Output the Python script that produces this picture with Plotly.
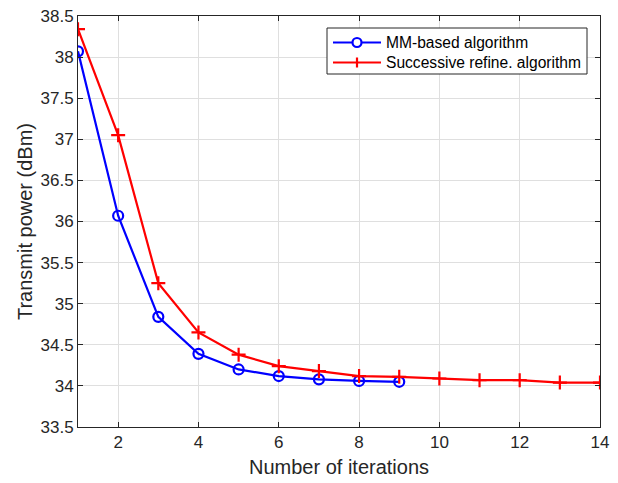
import plotly.graph_objects as go

# Iteration indices and transmit power (dBm) for each algorithm
iters_mm = [1, 2, 3, 4, 5, 6, 7, 8, 9]
power_mm = [38.07, 36.07, 34.84, 34.39, 34.20, 34.12, 34.08, 34.06, 34.05]

iters_sr = [1, 2, 3, 4, 5, 6, 7, 8, 9, 10, 11, 12, 13, 14]
power_sr = [38.34, 37.05, 35.25, 34.65, 34.38, 34.24, 34.18, 34.12, 34.11, 34.09, 34.07, 34.07, 34.04, 34.04]

x_ticks = [2, 4, 6, 8, 10, 12, 14]
y_ticks = [33.5, 34, 34.5, 35, 35.5, 36, 36.5, 37, 37.5, 38, 38.5]
y_tick_text = ["33.5", "34", "34.5", "35", "35.5", "36", "36.5", "37", "37.5", "38", "38.5"]

series_names = ["MM-based algorithm", "Successive refine. algorithm"]
series_colors = ["#0000ff", "#ff0000"]

FONT = "Liberation Sans, Arial, sans-serif"
AXIS_COLOR = "#262626"

W, H = 618, 483
ML, MR, MT, MB = 78, 18, 16, 56
PW, PH = W - ML - MR, H - MT - MB


def px_x(p):
    """Pixel column -> paper x."""
    return (p - ML) / PW


def px_y(p):
    """Pixel row -> paper y."""
    return (H - MB - p) / PH


fig = go.Figure()

fig.add_trace(go.Scatter(
    x=iters_mm, y=power_mm, mode="lines+markers",
    name=series_names[0],
    line=dict(color=series_colors[0], width=2.2),
    marker=dict(symbol="circle-open", size=10, color=series_colors[0],
                line=dict(width=2.2, color=series_colors[0])),
))

fig.add_trace(go.Scatter(
    x=iters_sr, y=power_sr, mode="lines+markers",
    name=series_names[1],
    line=dict(color=series_colors[1], width=2.2),
    marker=dict(symbol="cross-thin", size=10, color=series_colors[1],
                line=dict(width=2.2, color=series_colors[1])),
))

axis_common = dict(
    showline=True, linecolor=AXIS_COLOR, linewidth=1, mirror="ticks",
    ticks="inside", ticklen=5, tickcolor=AXIS_COLOR,
    showgrid=True, gridcolor="#dfdfdf", gridwidth=1,
    zeroline=False, automargin=False,
    tickfont=dict(family=FONT, size=17, color=AXIS_COLOR),
)

fig.update_xaxes(
    range=[1, 14], tickvals=x_ticks,
    title=dict(text="Number of iterations", font=dict(family=FONT, size=20, color=AXIS_COLOR), standoff=8),
    **axis_common,
)
fig.update_yaxes(
    range=[33.5, 38.5], tickvals=y_ticks, ticktext=y_tick_text,
    title=dict(text="Transmit power (dBm)", font=dict(family=FONT, size=20, color=AXIS_COLOR), standoff=2),
    **axis_common,
)

# Compact boxed legend in the upper-right corner
shapes = [dict(
    type="rect", xref="paper", yref="paper",
    x0=px_x(327), x1=px_x(587), y0=px_y(74), y1=px_y(28),
    line=dict(color=AXIS_COLOR, width=1), fillcolor="white", layer="above",
)]
annotations = []
row_y = [42.5, 62.5]
line_x0, line_x1, mark_x, text_x = 333, 381, 357, 384
for i, (name, color) in enumerate(zip(series_names, series_colors)):
    yy = row_y[i]
    shapes.append(dict(
        type="line", xref="paper", yref="paper",
        x0=px_x(line_x0), x1=px_x(line_x1), y0=px_y(yy), y1=px_y(yy),
        line=dict(color=color, width=2.2), layer="above",
    ))
    if i == 0:
        shapes.append(dict(
            type="circle", xref="paper", yref="paper",
            x0=px_x(mark_x - 4.5), x1=px_x(mark_x + 4.5),
            y0=px_y(yy + 4.5), y1=px_y(yy - 4.5),
            line=dict(color=color, width=2.2), fillcolor="white", layer="above",
        ))
    else:
        shapes.append(dict(
            type="line", xref="paper", yref="paper",
            x0=px_x(mark_x), x1=px_x(mark_x), y0=px_y(yy + 5), y1=px_y(yy - 5),
            line=dict(color=color, width=2.2), layer="above",
        ))
    annotations.append(dict(
        x=px_x(text_x), y=px_y(yy), xref="paper", yref="paper",
        xanchor="left", yanchor="middle", showarrow=False,
        text=name, font=dict(family=FONT, size=15.6, color="black"),
    ))

fig.update_layout(
    width=W, height=H,
    margin=dict(l=ML, r=MR, t=MT, b=MB),
    paper_bgcolor="white", plot_bgcolor="white",
    font=dict(family=FONT, size=16, color="black"),
    showlegend=False,
    shapes=shapes,
    annotations=annotations,
)

fig.write_html("out.html")
